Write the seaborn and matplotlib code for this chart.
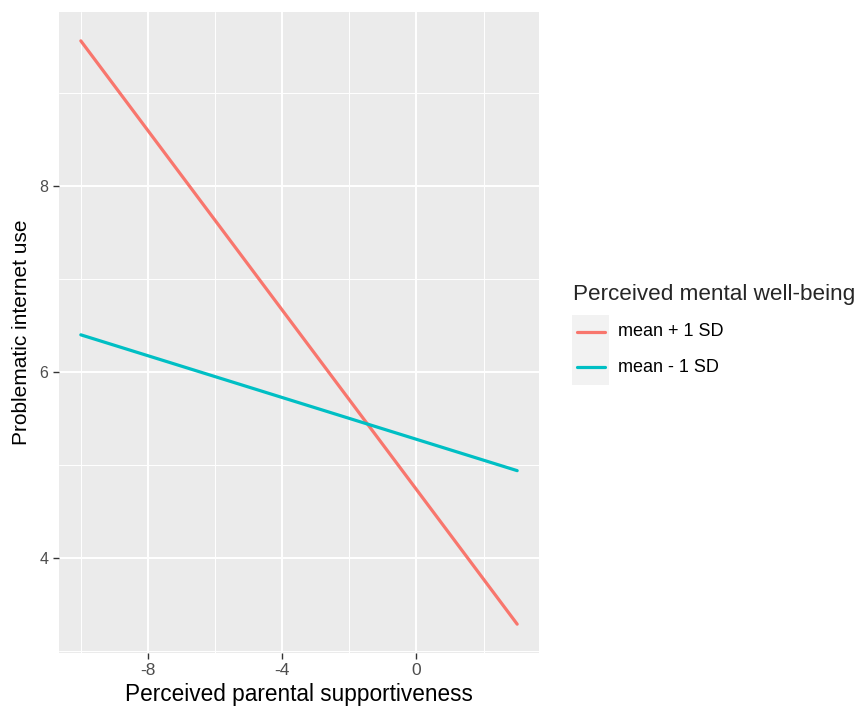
import pandas as pd
import matplotlib
matplotlib.use("Agg")
import matplotlib.pyplot as plt
from matplotlib.patches import Rectangle
import seaborn as sns

# simple slopes
support = [-10, 3]
high_wb = [9.56, 3.29]   # mean + 1 SD
low_wb = [6.40, 4.94]    # mean - 1 SD
groups = ["mean + 1 SD", "mean - 1 SD"]
colors = ["#F8766D", "#00BFC4"]

df = pd.DataFrame({
    "support": support * 2,
    "piu": high_wb + low_wb,
    "group": [groups[0]] * len(support) + [groups[1]] * len(support),
})

sns.set_theme(style="darkgrid")
plt.rcParams["font.family"] = ["Liberation Sans", "DejaVu Sans"]
plt.rcParams["axes.unicode_minus"] = False

fig = plt.figure(figsize=(8.56, 7.08), dpi=100)
ax = fig.add_axes([59 / 856, 55 / 708, 480 / 856, 641 / 708])
ax.set_facecolor("#EBEBEB")

sns.lineplot(data=df, x="support", y="piu", hue="group", hue_order=groups,
             palette=colors, linewidth=2.3, ax=ax, legend=False, zorder=3)

ax.set_xlim(-10.65, 3.65)
ax.set_ylim(2.98, 9.87)
ax.set_xticks([-8, -4, 0])
ax.set_yticks([4, 6, 8])
ax.set_xticks([-10, -6, -2, 2], minor=True)
ax.set_yticks([3, 5, 7, 9], minor=True)
ax.grid(which="major", color="white", linewidth=1.4)
ax.grid(which="minor", color="white", linewidth=0.7)
ax.set_axisbelow(True)
for s in ax.spines.values():
    s.set_visible(False)
ax.tick_params(which="major", length=4.5, width=1.0, color="#333333",
               labelcolor="#4D4D4D", pad=3, bottom=True, left=True)
ax.tick_params(axis="x", labelsize=12.5)
ax.tick_params(axis="y", labelsize=11.5)
ax.tick_params(which="minor", length=0)

ax.set_xlabel("Perceived parental supportiveness", fontsize=16.3, color="black", labelpad=3)
ax.set_ylabel("Problematic internet use", fontsize=15, color="black", labelpad=6)

# legend, ggplot style
fig.text(573 / 856, 1 - 300 / 708, "Perceived mental well-being", fontsize=16.2,
         ha="left", va="baseline")
fig.patches.append(Rectangle((572 / 856, 1 - 385 / 708), 37 / 856, 70 / 708,
                             transform=fig.transFigure, facecolor="#F2F2F2",
                             edgecolor="none", zorder=0))
for i, (g, c) in enumerate(zip(groups, colors)):
    yy = 1 - (332 + i * 35.5) / 708
    fig.add_artist(plt.Line2D([577 / 856, 605 / 856], [yy, yy], color=c,
                              linewidth=2.3, transform=fig.transFigure))
    fig.text(618 / 856, yy, g, fontsize=13, ha="left", va="center", color="black")

fig.savefig("out.png", dpi=100)
